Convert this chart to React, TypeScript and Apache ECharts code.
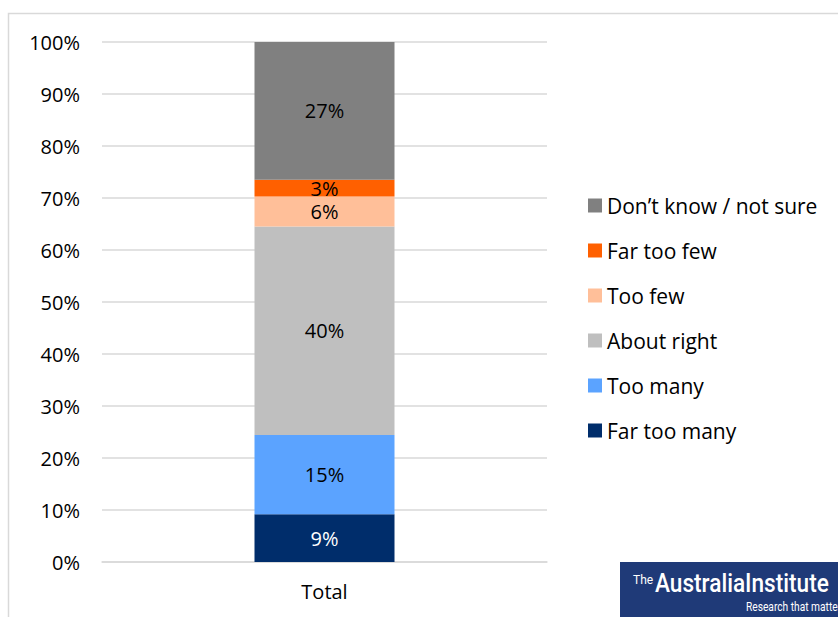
import React, { useEffect, useRef } from "react";
import * as echarts from "echarts";

const categories = ["Total"];
const seriesNames = ["Far too many", "Too many", "About right", "Too few", "Far too few", "Don’t know / not sure"];
const farTooMany = [9.2];
const tooMany = [15.2];
const aboutRight = [40.1];
const tooFew = [5.8];
const farTooFew = [3.2];
const dontKnow = [26.5];
const seriesValues = [farTooMany, tooMany, aboutRight, tooFew, farTooFew, dontKnow];
const colors = ["#002D6B", "#5BA3FF", "#BFBFBF", "#FFBF99", "#FF6000", "#808080"];
const labelColors = ["#FFFFFF", "#000000", "#000000", "#000000", "#000000", "#000000"];
const legendOrder = [...seriesNames].reverse();

const FONT = "'Open Sans', sans-serif";

export default function App() {
  const ref = useRef<HTMLDivElement>(null);
  useEffect(() => {
    if (!ref.current) return;
    const chart = echarts.init(ref.current, undefined, { renderer: "svg" });
    chart.setOption({
      animation: false,
      backgroundColor: "#FFFFFF",
      grid: { left: 102, right: 291, top: 42, bottom: 55, containLabel: false },
      xAxis: {
        type: "category",
        data: categories,
        axisLine: { show: true, lineStyle: { color: "#D9D9D9", width: 1.5 } },
        axisTick: { show: false },
        axisLabel: { fontFamily: FONT, fontSize: 20, color: "#000", margin: 19 },
      },
      yAxis: {
        type: "value",
        min: 0,
        max: 100,
        interval: 10,
        axisLine: { show: false },
        axisTick: { show: false },
        axisLabel: { fontFamily: FONT, fontSize: 20, color: "#000", margin: 22, formatter: "{value}%" },
        splitLine: { lineStyle: { color: "#D9D9D9", width: 1.5 } },
      },
      legend: {
        orient: "vertical",
        left: 588,
        top: 195,
        padding: 0,
        data: legendOrder,
        itemWidth: 14,
        itemHeight: 14,
        itemGap: 24,
        icon: "rect",
        textStyle: { fontFamily: FONT, fontSize: 21, color: "#000", lineHeight: 20 },
      },
      series: seriesNames.map((name, i) => ({
        name,
        type: "bar",
        stack: "total",
        barWidth: 140,
        data: seriesValues[i],
        itemStyle: { color: colors[i] },
        label: {
          show: true,
          position: "inside",
          fontFamily: FONT,
          fontSize: 20,
          lineHeight: 15,
          color: labelColors[i],
          formatter: (p: any) => Math.round(p.value) + "%",
        },
      })),
      graphic: [
        {
          type: "rect",
          shape: { x: 8.5, y: 13.5, width: 1000, height: 1000 },
          style: { fill: "none", stroke: "#D9D9D9", lineWidth: 1.5 },
          silent: true,
        },
        {
          type: "rect",
          shape: { x: 620, y: 562, width: 230, height: 60 },
          style: { fill: "#1F3A78" },
        },
        {
          type: "text",
          x: 633,
          y: 574,
          style: { text: "The", fontFamily: "Roboto, sans-serif", fontSize: 12, fill: "#FFFFFF" },
        },
        {
          type: "text",
          x: 655,
          y: 570,
          scaleX: 0.87,
          style: { text: "AustraliaInstitute", fontFamily: "Roboto, sans-serif", fontSize: 26, fontWeight: 500, fill: "#FFFFFF" },
        },
        {
          type: "text",
          x: 746,
          y: 601,
          scaleX: 0.85,
          style: { text: "Research that matters", fontFamily: "Roboto, sans-serif", fontSize: 12, fill: "#FFFFFF" },
        },
      ],
    });
    return () => chart.dispose();
  }, []);
  return <div ref={ref} style={{ position: "fixed", left: 0, top: 0, width: 838, height: 617 }} />;
}
